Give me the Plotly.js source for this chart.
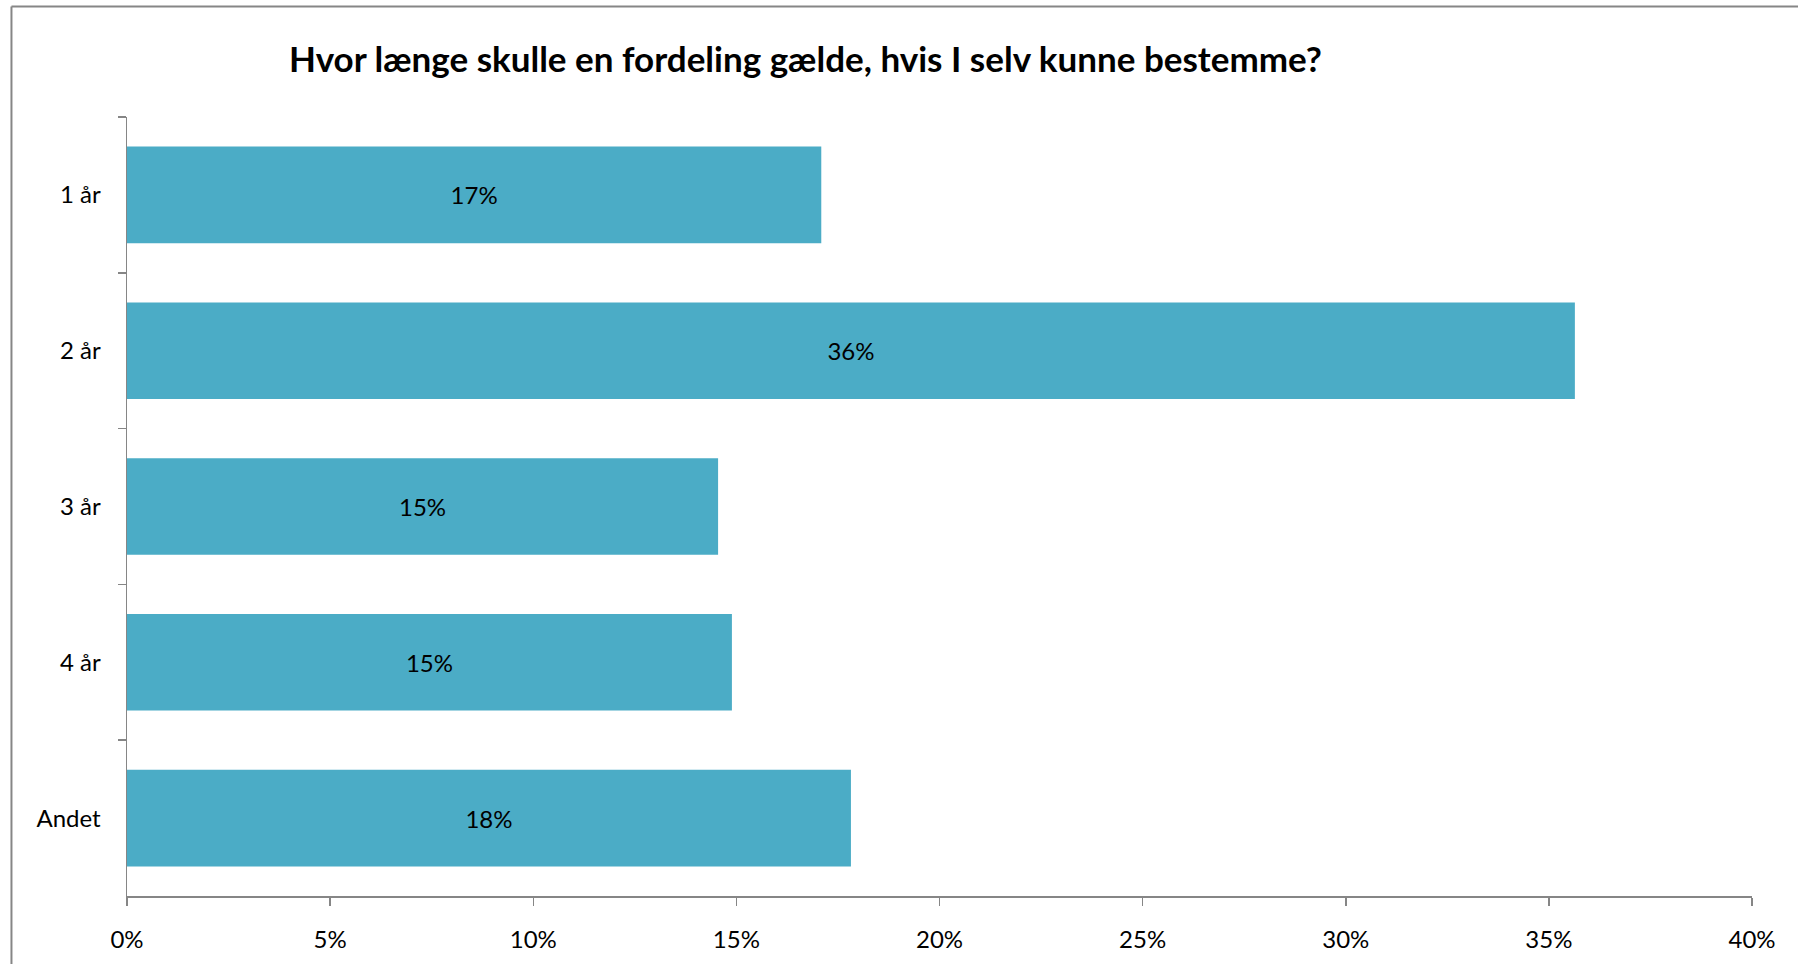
<!DOCTYPE html>
<html>
<head>
<meta charset="utf-8">
<script src="https://cdn.plot.ly/plotly-3.0.1.min.js"></script>
<style>html,body{margin:0;padding:0;background:#fff;}#chart{width:1798px;height:964px;}</style>
</head>
<body>
<div id="chart"></div>
<script>
const categories = ["1 år", "2 år", "3 år", "4 år", "Andet"];
const shares = [0.1709, 0.3564, 0.1455, 0.1489, 0.1782];
const xTickValues = [0, 0.05, 0.10, 0.15, 0.20, 0.25, 0.30, 0.35, 0.40];
const titleText = "Hvor længe skulle en fordeling gælde, hvis I selv kunne bestemme?";

const FONT = "Lato, 'Open Sans', sans-serif";
const frameColor = "#868686";

const trace = {
  type: "bar",
  orientation: "h",
  y: categories,
  x: shares,
  marker: {color: "#4BACC6", line: {width: 0}},
  texttemplate: "%{x:.0%}",
  textposition: "inside",
  insidetextanchor: "middle",
  textangle: 0,
  textfont: {family: FONT, size: 24, color: "#000"},
  hoverinfo: "skip",
  cliponaxis: false
};

const layout = {
  width: 1798,
  height: 964,
  margin: {l: 127, r: 46, t: 117, b: 68},
  paper_bgcolor: "#fff",
  plot_bgcolor: "#fff",
  showlegend: false,
  bargap: 0.38,
  font: {family: FONT, size: 24, color: "#000"},
  title: {
    text: "<b>" + titleText + "</b>",
    font: {family: FONT, size: 35, color: "#000"},
    x: 0.448, xanchor: "center",
    y: 0.938, yanchor: "middle"
  },
  xaxis: {
    range: [0, 0.4],
    tickvals: xTickValues,
    tickformat: ".0%",
    showgrid: false,
    zeroline: false,
    showline: true,
    linecolor: frameColor,
    linewidth: 1.5,
    ticks: "outside",
    ticklen: 8,
    tickcolor: frameColor,
    tickwidth: 1.5,
    ticklabelstandoff: 14,
    tickfont: {family: FONT, size: 24, color: "#000"},
    fixedrange: true
  },
  yaxis: {
    type: "category",
    autorange: "reversed",
    showgrid: false,
    zeroline: false,
    showline: true,
    linecolor: frameColor,
    linewidth: 1.5,
    ticks: "outside",
    tickson: "boundaries",
    ticklen: 8,
    tickcolor: frameColor,
    tickwidth: 1.5,
    ticklabelstandoff: 20,
    tickfont: {family: FONT, size: 24, color: "#000"},
    fixedrange: true
  },
  shapes: [
    {type: "line", xref: "paper", yref: "paper", x0: -0.0711, x1: -0.0711, y0: -0.2, y1: 1.1419,
     line: {color: frameColor, width: 2}},
    {type: "line", xref: "paper", yref: "paper", x0: -0.0711, x1: 1.1, y0: 1.1419, y1: 1.1419,
     line: {color: frameColor, width: 2}}
  ]
};

Plotly.newPlot("chart", [trace], layout, {staticPlot: true, displayModeBar: false});
</script>
</body>
</html>
